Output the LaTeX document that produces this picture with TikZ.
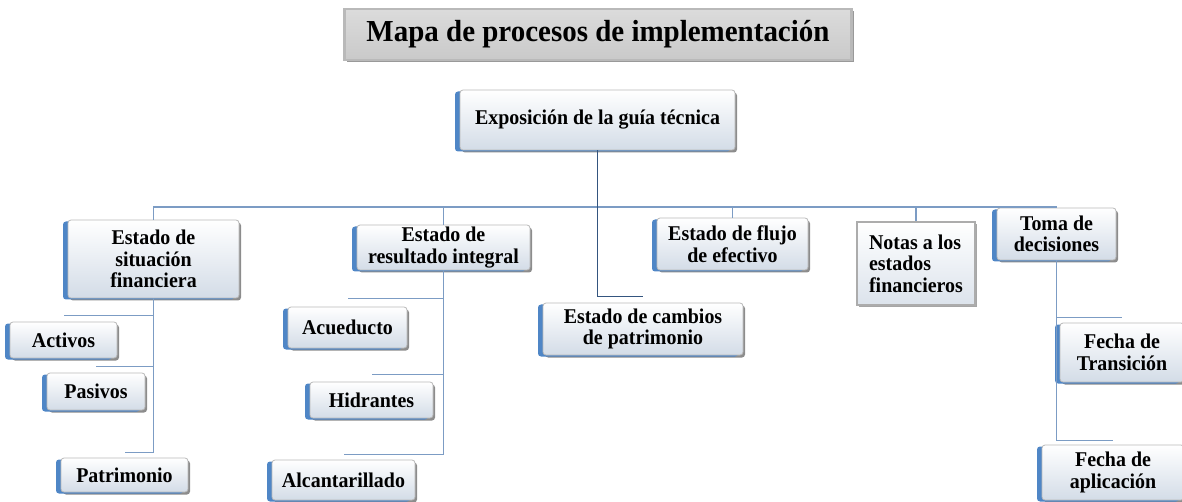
\documentclass[tikz,border=0pt]{standalone}
\usepackage{fontspec}
\setmainfont{Liberation Serif}
\newfontfamily\boxfont[FakeStretch=0.95]{Liberation Serif}
\usetikzlibrary{shadows}
\definecolor{bblue}{HTML}{4F86C6}
\definecolor{bbot}{HTML}{D3DCE7}
\definecolor{lnc}{HTML}{7C9CC4}
\definecolor{trunkc}{HTML}{34557F}
\begin{document}
\begin{tikzpicture}[x=1pt,y=-1pt,
  wh/.style 2 args={minimum width=#1pt, minimum height=#2pt},
  box/.style={rounded corners=3pt, draw=gray!55, line width=0.8pt,
    top color=white, bottom color=bbot, align=center, inner sep=2pt,
    font=\boxfont\bfseries\fontsize{21}{21.5}\selectfont,
    drop shadow={shadow xshift=2pt, shadow yshift=-2.5pt, opacity=.45, fill=black},
    general shadow={shadow xshift=-5pt, shadow yshift=-1.5pt, fill=bblue}},
  notebox/.style={draw=gray!65, line width=2pt,
    top color=white, bottom color=bbot!80, align=left, inner sep=2pt,
    font=\boxfont\bfseries\fontsize{21}{21.5}\selectfont,
    drop shadow={shadow xshift=1.5pt, shadow yshift=-2pt, opacity=.35, fill=black}},
  titlebox/.style={draw=gray!55, line width=2.2pt, top color=gray!28, bottom color=gray!42,
    inner sep=2pt, font=\boxfont\bfseries\fontsize{30.5}{32}\selectfont,
    drop shadow={shadow xshift=2pt, shadow yshift=-2.5pt, opacity=.4, fill=black}},
  ln/.style={draw=lnc, line width=1.4pt},
  trunk/.style={draw=trunkc, line width=1.8pt}
]
\useasboundingbox (0,0) rectangle (1182,502);

% title
\node[titlebox, wh={507}{51}] (title) at (598,34.5) {Mapa de procesos de implementación};

% nodes
\node[box, wh={275}{60}] (top) at (597.5,120) {Exposición de la guía técnica};
\node[box, wh={171}{78}] (sit) at (153.5,259) {Estado de\\situación\\financiera};
\node[box, wh={107}{36}] (act) at (63.5,340) {Activos};
\node[box, wh={98}{37}] (pas) at (96,391.5) {Pasivos};
\node[box, wh={127}{34}] (pat) at (124.5,475) {Patrimonio};
\node[box, wh={173}{45}] (res) at (443.5,247.5) {Estado de\\resultado integral};
\node[box, wh={119}{41}] (acu) at (347.5,327.5) {Acueducto};
\node[box, wh={123}{36}] (hid) at (371.5,400) {Hidrantes};
\node[box, wh={143}{40}] (alc) at (343.5,480) {Alcantarillado};
\node[box, wh={200}{52}] (camb) at (643,329) {Estado de cambios\\de patrimonio};
\node[box, wh={151}{52}] (flujo) at (732.5,244) {Estado de flujo\\de efectivo};
\node[notebox, wh={118}{83}] (notas) at (916,263.5) {Notas a los\\estados\\financieros};
\node[box, wh={119}{52}] (toma) at (1056.5,234) {Toma de\\decisiones};
\node[box, wh={124}{59}] (trans) at (1122,352.5) {Fecha de\\Transición};
\node[box, wh={142}{55}] (apl) at (1113,472.5) {Fecha de\\aplicación};

% connectors
\coordinate (bus) at (top.south |- 0,207);
\draw[ln] (bus) -| (sit.north);
\draw[ln] (bus) -| (res.north);
\draw[ln] (bus) -| (flujo.north);
\draw[ln] (bus) -| (notas.north);
\draw[ln] (bus) -| (toma.north);
\draw[trunk] (top.south) -- (bus);
\draw[trunk] (bus) |- ([yshift=6pt]camb.north);

\draw[ln] (sit.south) |- ([yshift=6pt]act.north);
\draw[ln] (sit.south) |- ([yshift=6pt]pas.north);
\draw[ln] (sit.south) |- ([yshift=5pt]pat.north);

\draw[ln] (res.south) |- ([yshift=8pt]acu.north);
\draw[ln] (res.south) |- ([yshift=7pt]hid.north);
\draw[ln] (res.south) |- ([yshift=5pt]alc.north);

\draw[ln] (toma.south) |- ([yshift=5pt]trans.north);
\draw[ln] (toma.south) |- ([yshift=4pt]apl.north);
\end{tikzpicture}
\end{document}
